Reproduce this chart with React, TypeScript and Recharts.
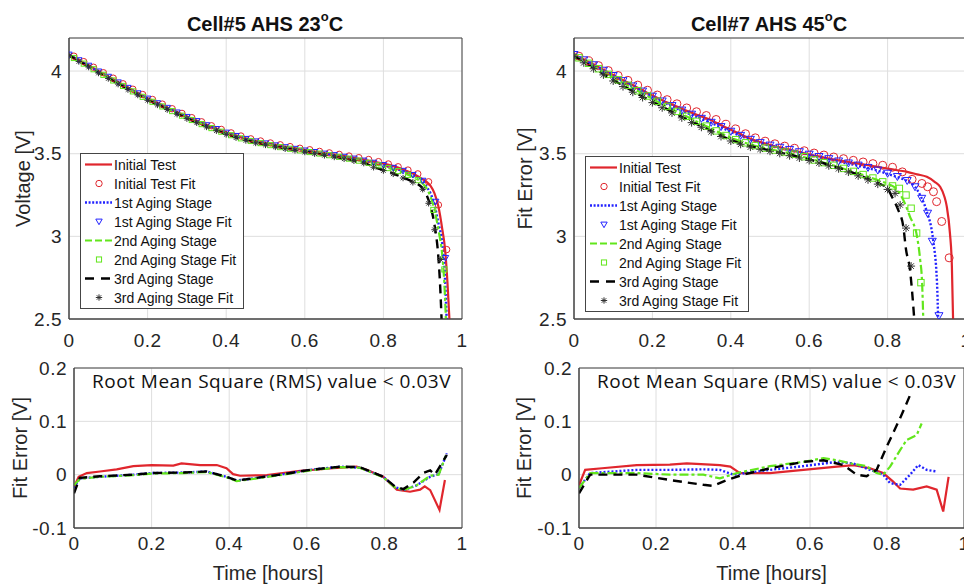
import React from "react";
import { LineChart, Line, XAxis, YAxis, CartesianGrid, ReferenceArea, Legend } from "recharts";

// ---- ticks & labels ----
const timeTicks = [0, 0.2, 0.4, 0.6, 0.8, 1];
const voltTicks = [2.5, 3, 3.5, 4];
const errTicks = [-0.1, 0, 0.1, 0.2];
const legendLabels = [
  "Initial Test",
  "Initial Test Fit",
  "1st Aging Stage",
  "1st Aging Stage Fit",
  "2nd Aging Stage",
  "2nd Aging Stage Fit",
  "3rd Aging Stage",
  "3rd Aging Stage Fit",
];
const rmsNote = "Root Mean Square (RMS) value < 0.03V";

// ---- sample times (hours) ----
const gridA = [0, 0.025, 0.05, 0.075, 0.1, 0.125, 0.15, 0.175, 0.2, 0.225, 0.25, 0.275, 0.3, 0.325, 0.35, 0.375, 0.4, 0.425, 0.45, 0.475, 0.5, 0.525, 0.55, 0.575, 0.6, 0.625, 0.65, 0.675, 0.7, 0.725, 0.75, 0.775, 0.8, 0.825, 0.85, 0.875, 0.9];
const gridB = [0.0125, 0.0375, 0.0625, 0.0875, 0.1125, 0.1375, 0.1625, 0.1875, 0.2125, 0.2375, 0.2625, 0.2875, 0.3125, 0.3375, 0.3625, 0.3875, 0.4125, 0.4375, 0.4625, 0.4875, 0.5125, 0.5375, 0.5625, 0.5875, 0.6125, 0.6375, 0.6625, 0.6875, 0.7125, 0.7375, 0.7625, 0.7875, 0.8125, 0.8375, 0.8625, 0.8875];

// ---- Cell#5 voltage (V) ----
const c5InitialT = [...gridA, 0.91, 0.92, 0.93, 0.94, 0.95, 0.957, 0.963, 0.968];
const c5Initial = [4.1, 4.067, 4.035, 4.0, 3.968, 3.934, 3.901, 3.868, 3.836, 3.808, 3.78, 3.752, 3.725, 3.7, 3.675, 3.652, 3.63, 3.61, 3.592, 3.577, 3.565, 3.553, 3.542, 3.532, 3.522, 3.513, 3.503, 3.494, 3.485, 3.475, 3.464, 3.452, 3.44, 3.425, 3.405, 3.38, 3.345, 3.33, 3.305, 3.26, 3.18, 3.04, 2.92, 2.72, 2.5];
const c5Stage1T = [...gridA, 0.91, 0.92, 0.93, 0.94, 0.95, 0.956, 0.961];
const c5Stage1 = [4.098, 4.064, 4.031, 3.996, 3.964, 3.93, 3.897, 3.864, 3.832, 3.804, 3.776, 3.748, 3.721, 3.696, 3.671, 3.648, 3.626, 3.606, 3.588, 3.573, 3.561, 3.549, 3.538, 3.528, 3.518, 3.509, 3.499, 3.49, 3.48, 3.469, 3.457, 3.444, 3.43, 3.413, 3.395, 3.37, 3.335, 3.3, 3.26, 3.19, 3.08, 2.95, 2.78, 2.5];
const c5Stage2T = [...gridA, 0.91, 0.92, 0.93, 0.94, 0.95, 0.955, 0.959];
const c5Stage2 = [4.096, 4.062, 4.028, 3.993, 3.96, 3.926, 3.893, 3.86, 3.828, 3.8, 3.772, 3.744, 3.717, 3.692, 3.667, 3.644, 3.622, 3.602, 3.585, 3.57, 3.558, 3.546, 3.535, 3.525, 3.515, 3.506, 3.496, 3.486, 3.476, 3.465, 3.452, 3.438, 3.422, 3.405, 3.385, 3.36, 3.32, 3.29, 3.24, 3.16, 3.04, 2.88, 2.72, 2.5];
const c5Stage3T = [...gridA, 0.91, 0.92, 0.93, 0.94, 0.944, 0.948];
const c5Stage3 = [4.095, 4.06, 4.026, 3.99, 3.957, 3.923, 3.89, 3.857, 3.825, 3.797, 3.769, 3.741, 3.714, 3.689, 3.664, 3.641, 3.619, 3.599, 3.582, 3.567, 3.555, 3.543, 3.532, 3.522, 3.512, 3.502, 3.492, 3.482, 3.471, 3.459, 3.446, 3.42, 3.4, 3.38, 3.355, 3.33, 3.29, 3.25, 3.18, 3.07, 2.87, 2.72, 2.5];

const c5InitialFitT = [...gridB, 0.915, 0.94, 0.961];
const c5InitialFit = [4.09, 4.057, 4.023, 3.99, 3.957, 3.923, 3.89, 3.858, 3.828, 3.8, 3.772, 3.744, 3.718, 3.693, 3.669, 3.647, 3.626, 3.607, 3.59, 3.577, 3.565, 3.554, 3.543, 3.533, 3.524, 3.514, 3.505, 3.496, 3.486, 3.476, 3.465, 3.452, 3.438, 3.421, 3.401, 3.378, 3.33, 3.19, 2.92];
const c5Stage1FitT = [...gridA, 0.933, 0.958];
const c5Stage1Fit = [4.1, 4.066, 4.033, 3.998, 3.966, 3.932, 3.899, 3.866, 3.834, 3.806, 3.778, 3.75, 3.723, 3.698, 3.673, 3.65, 3.628, 3.608, 3.59, 3.575, 3.563, 3.551, 3.54, 3.53, 3.52, 3.511, 3.501, 3.492, 3.482, 3.471, 3.459, 3.446, 3.432, 3.415, 3.397, 3.372, 3.337, 3.21, 2.87];
const c5Stage2FitT = [...gridB, 0.927, 0.955];
const c5Stage2Fit = [4.079, 4.045, 4.011, 3.977, 3.943, 3.91, 3.877, 3.844, 3.814, 3.786, 3.758, 3.73, 3.704, 3.679, 3.655, 3.633, 3.612, 3.593, 3.577, 3.564, 3.552, 3.54, 3.53, 3.52, 3.51, 3.501, 3.491, 3.481, 3.47, 3.458, 3.445, 3.43, 3.413, 3.395, 3.372, 3.34, 3.16, 2.8];
const c5Stage3FitT = [...gridA, 0.915, 0.93, 0.945];
const c5Stage3Fit = [4.093, 4.058, 4.024, 3.988, 3.955, 3.921, 3.888, 3.855, 3.823, 3.795, 3.767, 3.739, 3.712, 3.687, 3.662, 3.639, 3.617, 3.597, 3.58, 3.565, 3.553, 3.541, 3.53, 3.52, 3.51, 3.5, 3.49, 3.48, 3.469, 3.457, 3.443, 3.418, 3.398, 3.378, 3.353, 3.327, 3.285, 3.2, 3.04, 2.86];

// ---- Cell#7 voltage (V) ----
const c7InitialT = [...gridA, 0.92, 0.934, 0.945, 0.951, 0.959, 0.964, 0.967];
const c7Initial = [4.1, 4.07, 4.04, 4.008, 3.976, 3.945, 3.914, 3.884, 3.852, 3.824, 3.797, 3.772, 3.748, 3.725, 3.703, 3.672, 3.645, 3.618, 3.59, 3.57, 3.553, 3.538, 3.525, 3.51, 3.495, 3.483, 3.471, 3.46, 3.45, 3.44, 3.43, 3.42, 3.41, 3.4, 3.39, 3.375, 3.36, 3.33, 3.3, 3.24, 3.18, 3.02, 2.82, 2.5];
const c7Stage1T = [...gridA.slice(0, 35), 0.87, 0.885, 0.9, 0.916, 0.926, 0.929];
const c7Stage1 = [4.098, 4.066, 4.035, 4.002, 3.97, 3.938, 3.906, 3.875, 3.844, 3.815, 3.787, 3.76, 3.735, 3.71, 3.686, 3.66, 3.632, 3.607, 3.583, 3.563, 3.548, 3.535, 3.522, 3.508, 3.493, 3.479, 3.466, 3.452, 3.44, 3.427, 3.413, 3.397, 3.378, 3.358, 3.335, 3.3, 3.24, 3.15, 2.98, 2.72, 2.5];
const c7Stage2T = [...gridA.slice(0, 34), 0.84, 0.857, 0.875, 0.883, 0.888, 0.891];
const c7Stage2 = [4.095, 4.062, 4.03, 3.996, 3.962, 3.929, 3.896, 3.864, 3.832, 3.8, 3.77, 3.74, 3.71, 3.68, 3.652, 3.623, 3.596, 3.575, 3.556, 3.54, 3.527, 3.515, 3.503, 3.488, 3.47, 3.454, 3.437, 3.419, 3.4, 3.381, 3.361, 3.34, 3.318, 3.28, 3.22, 3.12, 3.0, 2.86, 2.72, 2.5];
const c7Stage3T = [...gridA.slice(0, 33), 0.811, 0.827, 0.84, 0.847, 0.857, 0.862, 0.868];
const c7Stage3 = [4.09, 4.055, 4.02, 3.982, 3.946, 3.912, 3.878, 3.846, 3.815, 3.784, 3.753, 3.723, 3.694, 3.666, 3.638, 3.61, 3.583, 3.562, 3.545, 3.532, 3.52, 3.507, 3.494, 3.48, 3.465, 3.45, 3.433, 3.415, 3.395, 3.372, 3.348, 3.322, 3.29, 3.24, 3.16, 3.06, 2.92, 2.8, 2.68, 2.5];

const c7InitialFitT = [...gridB, 0.902, 0.917, 0.925, 0.938, 0.957];
const c7InitialFit = [4.09, 4.062, 4.033, 4.003, 3.973, 3.944, 3.915, 3.884, 3.855, 3.827, 3.802, 3.777, 3.754, 3.731, 3.707, 3.678, 3.65, 3.621, 3.596, 3.576, 3.56, 3.546, 3.533, 3.518, 3.504, 3.492, 3.48, 3.47, 3.46, 3.45, 3.44, 3.43, 3.418, 3.39, 3.345, 3.32, 3.3, 3.27, 3.21, 3.09, 2.87];
const c7Stage1FitT = [...gridA.slice(0, 35), 0.87, 0.887, 0.902, 0.914, 0.931];
const c7Stage1Fit = [4.1, 4.068, 4.038, 4.005, 3.973, 3.942, 3.91, 3.879, 3.848, 3.819, 3.791, 3.764, 3.739, 3.714, 3.69, 3.664, 3.636, 3.611, 3.587, 3.567, 3.552, 3.539, 3.526, 3.512, 3.497, 3.483, 3.47, 3.456, 3.444, 3.431, 3.417, 3.401, 3.382, 3.362, 3.338, 3.3, 3.23, 3.14, 2.97, 2.52];
const c7Stage2FitT = [...gridB.slice(0, 33), 0.83, 0.847, 0.86, 0.874, 0.885];
const c7Stage2Fit = [4.08, 4.047, 4.014, 3.98, 3.947, 3.914, 3.881, 3.849, 3.817, 3.786, 3.756, 3.726, 3.696, 3.667, 3.638, 3.61, 3.585, 3.566, 3.549, 3.534, 3.522, 3.51, 3.497, 3.482, 3.462, 3.446, 3.43, 3.411, 3.393, 3.374, 3.353, 3.33, 3.305, 3.29, 3.25, 3.17, 3.02, 2.72];
const c7Stage3FitT = [...gridA.slice(0, 33), 0.819, 0.832, 0.847, 0.86];
const c7Stage3Fit = [4.088, 4.05, 4.014, 3.977, 3.94, 3.906, 3.872, 3.84, 3.809, 3.778, 3.747, 3.717, 3.688, 3.66, 3.632, 3.604, 3.577, 3.557, 3.54, 3.527, 3.515, 3.502, 3.488, 3.474, 3.459, 3.444, 3.427, 3.409, 3.389, 3.366, 3.342, 3.316, 3.284, 3.26, 3.19, 3.05, 2.82];

// ---- Cell#5 fit error (V) ----
const c5ErrInitialT = [0, 0.012, 0.033, 0.067, 0.11, 0.153, 0.2, 0.256, 0.277, 0.325, 0.368, 0.393, 0.41, 0.428, 0.497, 0.583, 0.668, 0.728, 0.754, 0.797, 0.832, 0.866, 0.892, 0.904, 0.918, 0.942, 0.956];
const c5ErrInitial = [-0.023, -0.004, 0.003, 0.006, 0.01, 0.016, 0.018, 0.017, 0.021, 0.018, 0.018, 0.012, 0.001, -0.002, -0.001, 0.007, 0.012, 0.015, 0.009, -0.004, -0.028, -0.032, -0.028, -0.022, -0.029, -0.066, -0.01];
const c5ErrStage1T = [0, 0.015, 0.067, 0.153, 0.2, 0.282, 0.342, 0.393, 0.419, 0.462, 0.54, 0.608, 0.686, 0.737, 0.797, 0.827, 0.849, 0.883, 0.918, 0.94, 0.961];
const c5ErrStage1 = [-0.025, -0.007, -0.004, 0, 0.003, 0.004, 0.006, -0.004, -0.011, -0.007, 0.001, 0.009, 0.015, 0.013, -0.004, -0.023, -0.029, -0.02, -0.004, 0.001, 0.04];
const c5ErrStage2T = [0, 0.015, 0.067, 0.153, 0.2, 0.282, 0.342, 0.393, 0.419, 0.462, 0.54, 0.608, 0.686, 0.737, 0.797, 0.827, 0.849, 0.883, 0.918, 0.94, 0.958];
const c5ErrStage2 = [-0.02, -0.008, -0.004, -0.001, 0.002, 0.003, 0.005, -0.005, -0.012, -0.008, 0, 0.008, 0.014, 0.013, -0.005, -0.024, -0.029, -0.02, -0.002, 0, 0.035];
const c5ErrStage3T = [0, 0.015, 0.067, 0.153, 0.2, 0.282, 0.342, 0.393, 0.419, 0.462, 0.54, 0.608, 0.686, 0.737, 0.797, 0.827, 0.849, 0.875, 0.9, 0.918, 0.93, 0.961];
const c5ErrStage3 = [-0.035, -0.006, -0.003, 0, 0.003, 0.004, 0.006, -0.004, -0.011, -0.007, 0.001, 0.009, 0.015, 0.014, -0.004, -0.022, -0.027, -0.015, 0.003, 0.008, 0, 0.037];

// ---- Cell#7 fit error (V) ----
const c7ErrInitialT = [0, 0.016, 0.06, 0.15, 0.236, 0.28, 0.366, 0.393, 0.418, 0.496, 0.583, 0.67, 0.713, 0.756, 0.79, 0.816, 0.834, 0.868, 0.903, 0.929, 0.946, 0.96];
const c7ErrInitial = [-0.02, 0.009, 0.012, 0.018, 0.019, 0.021, 0.018, 0.015, 0.003, 0.003, 0.009, 0.015, 0.018, 0.012, 0.003, -0.013, -0.026, -0.028, -0.022, -0.028, -0.069, -0.004];
const c7ErrStage1T = [0, 0.029, 0.15, 0.236, 0.323, 0.366, 0.401, 0.496, 0.583, 0.67, 0.713, 0.756, 0.79, 0.808, 0.834, 0.86, 0.881, 0.903, 0.929];
const c7ErrStage1 = [-0.025, 0.003, 0.009, 0.009, 0.01, 0.009, 0, 0.009, 0.016, 0.024, 0.021, 0.009, 0, -0.016, -0.019, 0, 0.018, 0.009, 0.006];
const c7ErrStage2T = [0, 0.029, 0.15, 0.236, 0.323, 0.366, 0.41, 0.496, 0.583, 0.635, 0.67, 0.713, 0.747, 0.773, 0.79, 0.808, 0.834, 0.851, 0.877, 0.89];
const c7ErrStage2 = [-0.025, 0.003, 0.003, 0, 0, -0.007, 0.003, 0.016, 0.024, 0.031, 0.027, 0.02, 0.016, 0.003, 0, 0.015, 0.046, 0.065, 0.074, 0.096];
const c7ErrStage3T = [0, 0.029, 0.15, 0.236, 0.323, 0.348, 0.384, 0.426, 0.496, 0.583, 0.635, 0.687, 0.721, 0.747, 0.773, 0.799, 0.834, 0.851, 0.864];
const c7ErrStage3 = [-0.035, 0, 0, -0.01, -0.019, -0.021, -0.01, 0, 0.012, 0.024, 0.027, 0.018, 0, -0.003, 0.009, 0.052, 0.106, 0.134, 0.156];

// ---- styles ----
const RED = "#e0262d";
const BLUE = "#2222ff";
const GREEN = "#62e61c";
const BLACK = "#000000";
const AXIS = "#454545";
const GRID = "#dedede";
const FONT = '"Liberation Sans", Arial, sans-serif';

type Kind = "circle" | "triangle" | "square" | "star";
const seriesStyles = [
  { color: RED, dash: undefined as string | undefined, legendDash: undefined as string | undefined, width: 2.2, kind: "circle" as Kind },
  { color: BLUE, dash: "2 2", legendDash: "2 1.6", width: 2.4, kind: "triangle" as Kind },
  { color: GREEN, dash: "9 3 3 3", legendDash: "7 3", width: 2.2, kind: "square" as Kind },
  { color: BLACK, dash: "9 6", legendDash: "9 7", width: 2.4, kind: "star" as Kind },
];

const pts = (t: number[], v: number[]) => t.map((x, i) => ({ t: x, v: v[i] }));

function marker(kind: Kind, cx: number, cy: number, s: number, key?: React.Key) {
  if (cx == null || cy == null) return <g key={key} />;
  switch (kind) {
    case "circle":
      return <circle key={key} cx={cx} cy={cy} r={s} fill="none" stroke={RED} strokeWidth={1} />;
    case "triangle":
      return (
        <polygon
          key={key}
          points={`${cx - s},${cy - s * 0.75} ${cx + s},${cy - s * 0.75} ${cx},${cy + s}`}
          fill="none"
          stroke={BLUE}
          strokeWidth={1}
        />
      );
    case "square":
      return <rect key={key} x={cx - s * 0.8} y={cy - s * 0.8} width={s * 1.6} height={s * 1.6} fill="none" stroke={GREEN} strokeWidth={1} />;
    default: {
      const d = s * 0.7;
      return (
        <path
          key={key}
          d={`M${cx - s},${cy}H${cx + s}M${cx},${cy - s}V${cy + s}M${cx - d},${cy - d}L${cx + d},${cy + d}M${cx - d},${cy + d}L${cx + d},${cy - d}`}
          stroke="#333"
          strokeWidth={1}
        />
      );
    }
  }
}

function LegendBox() {
  return (
    <div
      style={{
        width: 162,
        border: `1px solid ${AXIS}`,
        background: "#fff",
        padding: "1px 0",
        fontFamily: FONT,
        fontSize: 14,
        color: "#111",
        boxSizing: "content-box",
      }}
    >
      {legendLabels.map((label, i) => {
        const s = seriesStyles[Math.floor(i / 2)];
        const isFit = i % 2 === 1;
        return (
          <div key={label} style={{ display: "flex", alignItems: "center", height: 19, whiteSpace: "nowrap" }}>
            <svg width={33} height={19} style={{ flex: "none" }}>
              {isFit ? (
                marker(s.kind, 18, 9.5, 3.2)
              ) : (
                <line x1={4} x2={31} y1={9.5} y2={9.5} stroke={s.color} strokeWidth={s.width} strokeDasharray={s.legendDash} />
              )}
            </svg>
            <span>{label}</span>
          </div>
        );
      })}
    </div>
  );
}

interface PanelProps {
  left: number;
  top: number;
  width: number;
  height: number;
  marginRight: number;
  yAxisWidth: number;
  xAxisHeight: number;
  yDomain: [number, number];
  yTicks: number[];
  yLabel: string;
  yLabelOffset: number;
  xTickMargin: number;
  xLabel?: string;
  lines: { t: number; v: number }[][];
  fits?: { t: number; v: number }[][];
  markerSize?: number;
  curve: "monotone" | "linear";
  legendAt?: { left: number; top: number };
}

function Panel(p: PanelProps) {
  const tickStyle = { fontSize: 19, fill: "#262626", fontFamily: FONT, letterSpacing: 0.5 };
  return (
    <div style={{ position: "absolute", left: p.left, top: p.top }}>
      <LineChart
        width={p.width}
        height={p.height}
        margin={{ top: 38, right: p.marginRight, left: 0, bottom: 0 }}
        style={{ fontFamily: FONT }}
      >
        <CartesianGrid stroke={GRID} strokeWidth={1} />
        <XAxis
          type="number"
          dataKey="t"
          domain={[0, 1]}
          ticks={timeTicks}
          interval={0}
          allowDataOverflow
          height={p.xAxisHeight}
          tickSize={0}
          tickMargin={p.xTickMargin}
          tick={tickStyle}
          axisLine={{ stroke: AXIS }}
          label={
            p.xLabel
              ? { value: p.xLabel, position: "insideBottom", offset: 8, style: { fontSize: 20, fill: "#262626", fontFamily: FONT } }
              : undefined
          }
        />
        <YAxis
          type="number"
          domain={p.yDomain}
          ticks={p.yTicks}
          interval={0}
          allowDataOverflow
          width={p.yAxisWidth}
          tickSize={0}
          tickMargin={7}
          tick={tickStyle}
          axisLine={{ stroke: AXIS }}
          label={{
            value: p.yLabel,
            angle: -90,
            position: "insideLeft",
            offset: p.yLabelOffset,
            style: { textAnchor: "middle", fontSize: 20, fill: "#262626", fontFamily: FONT },
          }}
        />
        <ReferenceArea
          x1={0}
          x2={1}
          y1={p.yDomain[0]}
          y2={p.yDomain[1]}
          fill="none"
          stroke={AXIS}
          strokeWidth={1}
          ifOverflow="visible"
        />
        {p.lines.map((d, i) => {
          const s = seriesStyles[i];
          const items = [
            <Line
              key={`line-${i}`}
              data={d}
              dataKey="v"
              type={p.curve}
              stroke={s.color}
              strokeWidth={s.width}
              strokeDasharray={s.dash}
              dot={false}
              activeDot={false}
              legendType="none"
              isAnimationActive={false}
            />,
          ];
          if (p.fits) {
            items.push(
              <Line
                key={`fit-${i}`}
                data={p.fits[i]}
                dataKey="v"
                stroke="none"
                dot={(dp: any) => marker(s.kind, dp.cx, dp.cy, p.markerSize ?? 3.5, dp.key ?? `m-${i}-${dp.index}`)}
                activeDot={false}
                legendType="none"
                isAnimationActive={false}
              />
            );
          }
          return items;
        })}
        {p.legendAt && (
          <Legend
            layout="horizontal"
            verticalAlign="middle"
            align="center"
            wrapperStyle={{ left: p.legendAt.left, top: p.legendAt.top, width: 164, height: "auto" }}
            content={() => <LegendBox />}
          />
        )}
      </LineChart>
    </div>
  );
}

const titleStyle: React.CSSProperties = {
  position: "absolute",
  top: 13,
  width: 220,
  textAlign: "center",
  fontFamily: FONT,
  fontWeight: "bold",
  fontSize: 20,
  lineHeight: "22px",
  color: "#111",
  whiteSpace: "nowrap",
};

const noteStyle: React.CSSProperties = {
  position: "absolute",
  top: 372,
  fontFamily: '"Open Sans", sans-serif',
  fontSize: 19,
  letterSpacing: 0.5,
  lineHeight: "19px",
  color: "#111",
  whiteSpace: "nowrap",
};

const supStyle: React.CSSProperties = { fontSize: 13, position: "relative", top: -10 };

export default function App() {
  return (
    <div
      style={{
        position: "absolute",
        left: 0,
        top: 0,
        width: 964,
        height: 588,
        overflow: "hidden",
        background: "#fff",
        fontFamily: FONT,
      }}
    >
      <Panel
        left={0}
        top={0}
        width={480}
        height={360}
        marginRight={18}
        yAxisWidth={69}
        xAxisHeight={41}
        yDomain={[2.5, 4.2]}
        yTicks={voltTicks}
        yLabel="Voltage [V]"
        yLabelOffset={23}
        xTickMargin={15}
        curve="monotone"
        lines={[pts(c5InitialT, c5Initial), pts(c5Stage1T, c5Stage1), pts(c5Stage2T, c5Stage2), pts(c5Stage3T, c5Stage3)]}
        fits={[pts(c5InitialFitT, c5InitialFit), pts(c5Stage1FitT, c5Stage1Fit), pts(c5Stage2FitT, c5Stage2Fit), pts(c5Stage3FitT, c5Stage3Fit)]}
        markerSize={3.2}
        legendAt={{ left: 80, top: 153 }}
      />
      <Panel
        left={480}
        top={0}
        width={500}
        height={360}
        marginRight={14}
        yAxisWidth={94}
        xAxisHeight={41}
        yDomain={[2.5, 4.2]}
        yTicks={voltTicks}
        yLabel="Fit Error [V]"
        yLabelOffset={45}
        xTickMargin={15}
        curve="monotone"
        lines={[pts(c7InitialT, c7Initial), pts(c7Stage1T, c7Stage1), pts(c7Stage2T, c7Stage2), pts(c7Stage3T, c7Stage3)]}
        fits={[pts(c7InitialFitT, c7InitialFit), pts(c7Stage1FitT, c7Stage1Fit), pts(c7Stage2FitT, c7Stage2Fit), pts(c7Stage3FitT, c7Stage3Fit)]}
        markerSize={4}
        legendAt={{ left: 105, top: 156 }}
      />
      <Panel
        left={0}
        top={330}
        width={480}
        height={258}
        marginRight={18}
        yAxisWidth={74}
        xAxisHeight={60}
        yDomain={[-0.1, 0.2]}
        yTicks={errTicks}
        yLabel="Fit Error [V]"
        yLabelOffset={20}
        xTickMargin={9}
        xLabel="Time [hours]"
        curve="linear"
        lines={[pts(c5ErrInitialT, c5ErrInitial), pts(c5ErrStage1T, c5ErrStage1), pts(c5ErrStage2T, c5ErrStage2), pts(c5ErrStage3T, c5ErrStage3)]}
      />
      <Panel
        left={480}
        top={330}
        width={500}
        height={258}
        marginRight={16}
        yAxisWidth={99}
        xAxisHeight={60}
        yDomain={[-0.1, 0.2]}
        yTicks={errTicks}
        yLabel="Fit Error [V]"
        yLabelOffset={44}
        xTickMargin={9}
        xLabel="Time [hours]"
        curve="linear"
        lines={[pts(c7ErrInitialT, c7ErrInitial), pts(c7ErrStage1T, c7ErrStage1), pts(c7ErrStage2T, c7ErrStage2), pts(c7ErrStage3T, c7ErrStage3)]}
      />

      <div style={{ ...titleStyle, left: 155 }}>
        Cell#5 AHS 23<span style={supStyle}>o</span>C
      </div>
      <div style={{ ...titleStyle, left: 659 }}>
        Cell#7 AHS 45<span style={supStyle}>o</span>C
      </div>
      <div style={{ ...noteStyle, left: 92 }}>{rmsNote}</div>
      <div style={{ ...noteStyle, left: 597 }}>{rmsNote}</div>
    </div>
  );
}
